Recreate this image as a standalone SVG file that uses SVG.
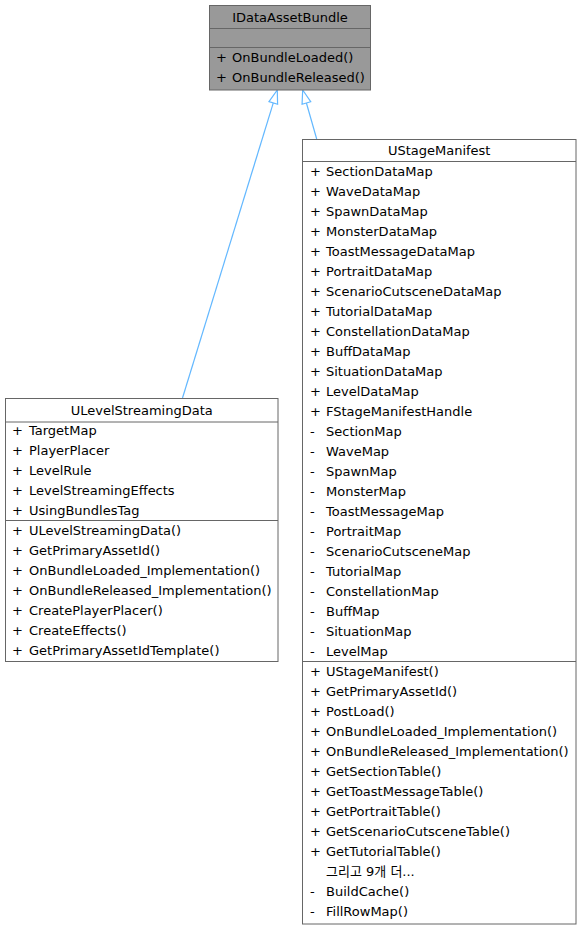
<svg xmlns="http://www.w3.org/2000/svg" width="581" height="929" viewBox="0 0 581 929">
<defs>
<style>
text{font-family:"DejaVu Sans","Noto Sans CJK KR",sans-serif;font-size:13px;fill:#000}
.t{text-anchor:middle}
.box{fill:#fff;stroke:#666;stroke-width:1}
.base{fill:#999;stroke:#666;stroke-width:1}
.sep{stroke:#666;stroke-width:1}
.edge{fill:none;stroke:#63b8ff;stroke-width:1.2}
</style>
<marker id="inh" markerUnits="userSpaceOnUse" orient="auto" refX="0" refY="0" markerWidth="16" markerHeight="12" viewBox="-1 -6 16 12" overflow="visible">
<path d="M0,-4.5 L13.5,0 L0,4.5 Z" fill="#fff" stroke="#63b8ff" stroke-width="1.2"/>
</marker>
</defs>
<rect width="581" height="929" fill="#fff"/>
<g id="connectors">
<line class="edge" x1="182.5" y1="398" x2="273.3" y2="102.9" marker-end="url(#inh)"/>
<line class="edge" x1="316.7" y1="139" x2="306.4" y2="103" marker-end="url(#inh)"/>
</g>
<g id="IDataAssetBundle">
<rect class="base" x="209.5" y="5.5" width="161" height="84.5"/>
<line class="sep" x1="209.5" y1="28.5" x2="370.5" y2="28.5"/>
<line class="sep" x1="209.5" y1="47.5" x2="370.5" y2="47.5"/>
<text class="t" x="290" y="21.5">IDataAssetBundle</text>
<text x="216" y="61.5">+</text><text x="232" y="61.5">OnBundleLoaded()</text>
<text x="216" y="81.5">+</text><text x="232" y="81.5">OnBundleReleased()</text>
</g>
<g id="ULevelStreamingData">
<rect class="box" x="5.5" y="398.5" width="272.5" height="263"/>
<line class="sep" x1="5.5" y1="422" x2="278" y2="422"/>
<line class="sep" x1="5.5" y1="520.5" x2="278" y2="520.5"/>
<text class="t" x="141.7" y="415">ULevelStreamingData</text>
<text x="12" y="435">+</text><text x="29" y="435">TargetMap</text>
<text x="12" y="455">+</text><text x="29" y="455">PlayerPlacer</text>
<text x="12" y="475">+</text><text x="29" y="475">LevelRule</text>
<text x="12" y="495">+</text><text x="29" y="495">LevelStreamingEffects</text>
<text x="12" y="515">+</text><text x="29" y="515">UsingBundlesTag</text>
<text x="12" y="535">+</text><text x="29" y="535">ULevelStreamingData()</text>
<text x="12" y="555">+</text><text x="29" y="555">GetPrimaryAssetId()</text>
<text x="12" y="575">+</text><text x="29" y="575">OnBundleLoaded_Implementation()</text>
<text x="12" y="595">+</text><text x="29" y="595">OnBundleReleased_Implementation()</text>
<text x="12" y="615">+</text><text x="29" y="615">CreatePlayerPlacer()</text>
<text x="12" y="635">+</text><text x="29" y="635">CreateEffects()</text>
<text x="12" y="655">+</text><text x="29" y="655">GetPrimaryAssetIdTemplate()</text>
</g>
<g id="UStageManifest">
<rect class="box" x="302.5" y="139.5" width="273.5" height="784.5"/>
<line class="sep" x1="302.5" y1="161.5" x2="576" y2="161.5"/>
<line class="sep" x1="302.5" y1="661.5" x2="576" y2="661.5"/>
<text class="t" x="439.2" y="155">UStageManifest</text>
<text x="310" y="175.5">+</text><text x="326" y="175.5">SectionDataMap</text>
<text x="310" y="195.5">+</text><text x="326" y="195.5">WaveDataMap</text>
<text x="310" y="215.5">+</text><text x="326" y="215.5">SpawnDataMap</text>
<text x="310" y="235.5">+</text><text x="326" y="235.5">MonsterDataMap</text>
<text x="310" y="255.5">+</text><text x="326" y="255.5">ToastMessageDataMap</text>
<text x="310" y="275.5">+</text><text x="326" y="275.5">PortraitDataMap</text>
<text x="310" y="295.5">+</text><text x="326" y="295.5">ScenarioCutsceneDataMap</text>
<text x="310" y="315.5">+</text><text x="326" y="315.5">TutorialDataMap</text>
<text x="310" y="335.5">+</text><text x="326" y="335.5">ConstellationDataMap</text>
<text x="310" y="355.5">+</text><text x="326" y="355.5">BuffDataMap</text>
<text x="310" y="375.5">+</text><text x="326" y="375.5">SituationDataMap</text>
<text x="310" y="395.5">+</text><text x="326" y="395.5">LevelDataMap</text>
<text x="310" y="415.5">+</text><text x="326" y="415.5">FStageManifestHandle</text>
<text x="310" y="435.5">-</text><text x="326" y="435.5">SectionMap</text>
<text x="310" y="455.5">-</text><text x="326" y="455.5">WaveMap</text>
<text x="310" y="475.5">-</text><text x="326" y="475.5">SpawnMap</text>
<text x="310" y="495.5">-</text><text x="326" y="495.5">MonsterMap</text>
<text x="310" y="515.5">-</text><text x="326" y="515.5">ToastMessageMap</text>
<text x="310" y="535.5">-</text><text x="326" y="535.5">PortraitMap</text>
<text x="310" y="555.5">-</text><text x="326" y="555.5">ScenarioCutsceneMap</text>
<text x="310" y="575.5">-</text><text x="326" y="575.5">TutorialMap</text>
<text x="310" y="595.5">-</text><text x="326" y="595.5">ConstellationMap</text>
<text x="310" y="615.5">-</text><text x="326" y="615.5">BuffMap</text>
<text x="310" y="635.5">-</text><text x="326" y="635.5">SituationMap</text>
<text x="310" y="655.5">-</text><text x="326" y="655.5">LevelMap</text>
<text x="310" y="676">+</text><text x="326" y="676">UStageManifest()</text>
<text x="310" y="696">+</text><text x="326" y="696">GetPrimaryAssetId()</text>
<text x="310" y="716">+</text><text x="326" y="716">PostLoad()</text>
<text x="310" y="736">+</text><text x="326" y="736">OnBundleLoaded_Implementation()</text>
<text x="310" y="756">+</text><text x="326" y="756">OnBundleReleased_Implementation()</text>
<text x="310" y="776">+</text><text x="326" y="776">GetSectionTable()</text>
<text x="310" y="796">+</text><text x="326" y="796">GetToastMessageTable()</text>
<text x="310" y="816">+</text><text x="326" y="816">GetPortraitTable()</text>
<text x="310" y="836">+</text><text x="326" y="836">GetScenarioCutsceneTable()</text>
<text x="310" y="856">+</text><text x="326" y="856">GetTutorialTable()</text>
<text x="326" y="876">그리고 9개 더...</text>
<text x="310" y="896">-</text><text x="326" y="896">BuildCache()</text>
<text x="310" y="916">-</text><text x="326" y="916">FillRowMap()</text>
</g>
</svg>
